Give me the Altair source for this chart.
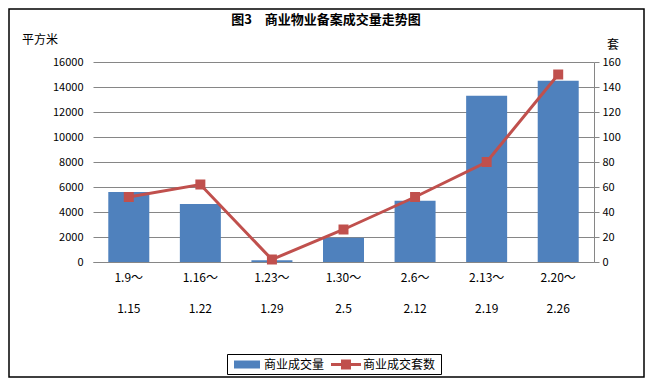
import altair as alt
import pandas as pd

# ---- data ----
periods = ["1.9～|1.15", "1.16～|1.22", "1.23～|1.29", "1.30～|2.5",
           "2.6～|2.12", "2.13～|2.19", "2.20～|2.26"]
area_sqm = [5600, 4650, 150, 1950, 4900, 13300, 14500]   # 商业成交量 (平方米)
units = [52, 62, 2, 26, 52, 80, 150]                     # 商业成交套数 (套)

left_ticks = [0, 2000, 4000, 6000, 8000, 10000, 12000, 14000, 16000]
right_ticks = [0, 20, 40, 60, 80, 100, 120, 140, 160]

title_text = "图3　商业物业备案成交量走势图"
left_unit = "平方米"
right_unit = "套"
legend_bar = "商业成交量"
legend_line = "商业成交套数"

BLUE = "#4F81BD"
RED = "#C0504D"
GRID = "#868686"
FONT = "Noto Sans CJK SC"

df = pd.DataFrame({"period": periods, "area": area_sqm, "units": units})
one = pd.DataFrame({"k": [0]})

W, H = 501, 200

xenc = alt.X("period:N", sort=periods, title=None,
             scale=alt.Scale(paddingInner=0, paddingOuter=0),
             axis=alt.Axis(labelExpr="split(datum.label, '|')", labelAngle=0,
                           labelLineHeight=31, labelBaseline="top",
                           labelPadding=10, labelFontSize=12, labelFont=FONT,
                           labelColor="black", ticks=False, domainColor=GRID,
                           grid=False))

bars = alt.Chart(df).mark_bar(color=BLUE, size=41).encode(
    x=xenc,
    y=alt.Y("area:Q", title=None,
            scale=alt.Scale(domain=[0, 16000], nice=False),
            axis=alt.Axis(values=left_ticks, format="d", grid=True, gridColor=GRID,
                          domain=False, ticks=False, labelPadding=10,
                          labelFontSize=11, labelFont=FONT, labelColor="black")),
)

line = alt.Chart(df).mark_line(
    color=RED, strokeWidth=3,
    point=alt.OverlayMarkDef(shape="square", size=100, filled=True,
                             color=RED, opacity=1),
).encode(
    x=alt.X("period:N", sort=periods),
    y=alt.Y("units:Q", title=None,
            scale=alt.Scale(domain=[0, 160], nice=False),
            axis=alt.Axis(orient="right", values=right_ticks, format="d", grid=False,
                          domainColor=GRID, tickColor=GRID, tickSize=5,
                          labelPadding=3, labelFontSize=11, labelFont=FONT,
                          labelColor="black")),
)

def txt(text, x, y, size=11, weight="normal", align="center"):
    return alt.Chart(one).mark_text(
        text=text, fontSize=size, fontWeight=weight, font=FONT,
        align=align, baseline="middle", color="black"
    ).encode(x=alt.value(x), y=alt.value(y))

frame = alt.Chart(one).mark_rect(fill="white", fillOpacity=0, stroke="black",
                                 strokeWidth=1.5).encode(
    x=alt.value(-84), x2=alt.value(551), y=alt.value(-53), y2=alt.value(315))

leg_box = alt.Chart(one).mark_rect(fill="white", stroke="black",
                                   strokeWidth=1).encode(
    x=alt.value(134.5), x2=alt.value(348.5), y=alt.value(292.5), y2=alt.value(312.5))
leg_sw = alt.Chart(one).mark_rect(color=BLUE).encode(
    x=alt.value(141), x2=alt.value(167), y=alt.value(298.5), y2=alt.value(306.5))
leg_ln = alt.Chart(one).mark_rule(color=RED, strokeWidth=3).encode(
    x=alt.value(238), x2=alt.value(268), y=alt.value(302.5))
leg_pt = alt.Chart(one).mark_point(shape="square", size=100, filled=True,
                                   color=RED, opacity=1).encode(
    x=alt.value(253), y=alt.value(302.5))

chart = alt.layer(
    bars, line,
    frame,
    txt(title_text, 233, -42, size=13, weight="bold"),
    txt(left_unit, -53, -22, size=12),
    txt(right_unit, 520, -17, size=12),
    leg_box, leg_sw, leg_ln, leg_pt,
    txt(legend_bar, 171, 302.5, size=12, align="left"),
    txt(legend_line, 270, 302.5, size=12, align="left"),
).resolve_scale(y="independent").properties(
    width=W, height=H,
    autosize=alt.AutoSizeParams(type="none"),
    padding={"left": 85, "top": 54, "right": 51, "bottom": 116},
    background="white",
).configure_view(strokeWidth=0)

chart.save("out.html", embed_options={"renderer": "svg", "actions": False})
